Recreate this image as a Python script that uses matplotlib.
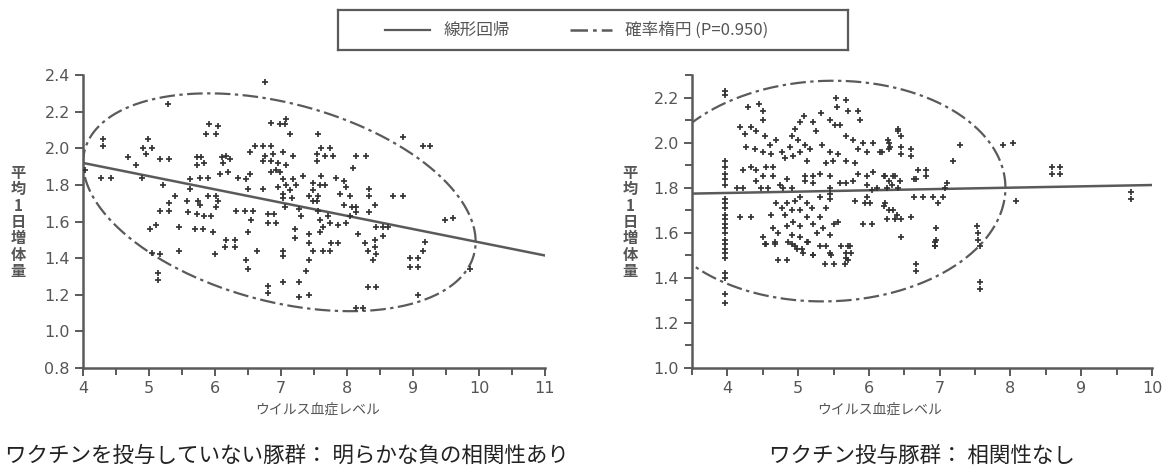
import numpy as np
import matplotlib
matplotlib.use("Agg")
import matplotlib.pyplot as plt
from matplotlib.ticker import MultipleLocator, FormatStrFormatter

plt.rcParams['font.family'] = ['Noto Sans CJK JP', 'DejaVu Sans']

# ---- Unvaccinated herd: viremia level vs. average daily gain ----
unvac_x = [6.75, 5.29, 4.30, 4.31, 5.91, 6.05, 5.87, 6.02, 6.85, 6.98, 7.08, 7.06, 7.13, 7.56,
           8.85, 9.15, 9.25, 4.98, 4.91, 5.04, 4.96, 4.68, 4.81, 5.16, 5.31, 5.72, 5.79, 5.84,
           5.72, 6.10, 6.17, 6.22, 6.12, 6.60, 6.73, 6.85, 6.53, 6.75, 6.88, 7.03, 7.18, 6.73,
           6.85, 6.95, 7.08, 6.93, 6.85, 6.98, 7.61, 7.74, 7.54, 7.66, 7.79, 7.54, 8.14, 8.29,
           8.09, 4.28, 4.43, 4.90, 5.21, 5.62, 5.77, 5.89, 6.07, 6.20, 6.35, 6.47, 6.53, 6.50,
           6.73, 7.03, 7.18, 6.95, 7.08, 7.23, 7.03, 7.13, 7.33, 7.61, 7.48, 7.59, 7.66, 7.48,
           7.84, 7.96, 7.99, 8.34, 8.34, 8.42, 8.70, 8.85, 5.62, 5.39, 5.31, 5.57, 5.74, 5.77,
           5.89, 6.02, 6.05, 6.02, 5.72, 5.84, 5.94, 5.59, 5.16, 5.31, 6.32, 6.45, 6.58, 6.55,
           6.80, 6.90, 6.80, 6.93, 7.03, 7.16, 7.06, 7.28, 7.31, 7.43, 7.56, 7.48, 7.54, 7.56,
           7.71, 7.59, 7.74, 7.64, 7.59, 7.86, 7.99, 7.89, 8.04, 7.96, 8.07, 8.14, 8.04, 8.14,
           8.34, 8.44, 8.55, 8.62, 8.55, 9.48, 9.61, 5.01, 5.11, 5.46, 5.69, 5.82, 5.97, 6.50,
           7.21, 7.21, 7.43, 7.43, 7.48, 7.43, 7.38, 6.17, 6.30, 6.15, 6.30, 8.17, 8.27, 8.32,
           8.42, 8.42, 8.44, 8.39, 7.76, 7.86, 7.64, 7.74, 9.18, 9.15, 5.04, 5.16, 5.46, 6.00,
           6.63, 7.03, 7.03, 6.47, 6.50, 8.95, 9.08, 8.95, 9.08, 9.86, 5.14, 5.14, 6.80, 6.80,
           7.03, 7.28, 7.28, 7.43, 8.32, 8.44, 9.08, 8.14, 8.24, 4.03]
unvac_y = [2.36, 2.24, 2.05, 2.01, 2.13, 2.12, 2.08, 2.08, 2.14, 2.13, 2.16, 2.13, 2.08, 2.08,
           2.06, 2.01, 2.01, 2.05, 2.00, 2.00, 1.97, 1.95, 1.91, 1.94, 1.94, 1.95, 1.95, 1.92,
           1.91, 1.95, 1.96, 1.94, 1.92, 2.01, 2.01, 2.01, 1.98, 1.96, 1.97, 1.98, 1.96, 1.93,
           1.93, 1.92, 1.91, 1.88, 1.87, 1.87, 2.00, 2.00, 1.97, 1.96, 1.96, 1.93, 1.96, 1.96,
           1.89, 1.84, 1.84, 1.84, 1.80, 1.83, 1.84, 1.84, 1.86, 1.87, 1.84, 1.83, 1.86, 1.78,
           1.78, 1.83, 1.83, 1.79, 1.80, 1.80, 1.75, 1.77, 1.85, 1.85, 1.81, 1.80, 1.80, 1.77,
           1.84, 1.82, 1.79, 1.78, 1.74, 1.69, 1.74, 1.74, 1.78, 1.74, 1.70, 1.71, 1.71, 1.69,
           1.74, 1.74, 1.71, 1.68, 1.64, 1.63, 1.63, 1.65, 1.66, 1.66, 1.66, 1.66, 1.66, 1.61,
           1.64, 1.64, 1.59, 1.59, 1.73, 1.73, 1.68, 1.67, 1.63, 1.74, 1.74, 1.71, 1.71, 1.66,
           1.63, 1.61, 1.59, 1.57, 1.54, 1.58, 1.59, 1.75, 1.74, 1.69, 1.68, 1.68, 1.63, 1.65,
           1.65, 1.57, 1.57, 1.57, 1.52, 1.61, 1.62, 1.56, 1.58, 1.57, 1.56, 1.56, 1.54, 1.54,
           1.56, 1.51, 1.53, 1.48, 1.44, 1.39, 1.33, 1.50, 1.50, 1.46, 1.46, 1.53, 1.48, 1.44,
           1.50, 1.46, 1.42, 1.39, 1.48, 1.48, 1.44, 1.44, 1.49, 1.44, 1.43, 1.42, 1.44, 1.42,
           1.44, 1.44, 1.41, 1.39, 1.34, 1.40, 1.40, 1.35, 1.35, 1.34, 1.32, 1.28, 1.25, 1.21,
           1.27, 1.27, 1.19, 1.20, 1.24, 1.24, 1.20, 1.13, 1.13, 1.88]

# ---- Vaccinated herd ----
vac_x = [3.96, 3.96, 3.97, 3.97, 3.97, 3.97, 3.97, 3.97, 3.97, 3.97, 3.97, 3.97, 3.97, 3.97,
         3.97, 3.97, 3.97, 3.97, 3.97, 3.97, 3.97, 3.97, 3.97, 3.97,
         4.29, 4.45, 4.51, 4.50, 5.54, 5.68, 5.55, 5.71, 5.85, 5.87, 5.32, 5.21, 5.25, 5.08,
         5.02, 4.95, 5.45, 5.52, 5.59, 4.18, 4.34,
         4.25, 4.41, 4.53, 4.69, 4.60, 4.27, 4.39, 4.51, 4.62, 4.77, 4.88, 4.91, 5.00, 5.09,
         5.17, 5.02, 4.93, 4.81, 5.12, 5.33, 5.45, 5.57, 5.68, 5.78, 5.92, 5.85, 5.97, 6.06,
         6.15, 6.29, 6.29, 6.41, 5.68, 5.80, 5.49, 5.40,
         4.22, 4.34, 4.41, 4.55, 4.65, 4.65, 4.51, 4.41, 4.48, 4.58, 4.13, 4.22, 4.74, 4.84,
         4.91, 4.79, 5.09, 5.21, 5.09, 5.21, 5.31, 5.45, 5.45, 5.59, 5.68, 5.78, 5.85, 5.97,
         6.06, 5.97, 6.04, 6.11, 6.23, 6.29, 6.37, 6.25,
         5.45, 5.45, 5.31, 5.80, 5.97, 5.94, 6.01, 6.23, 6.29, 6.39, 4.18, 4.34, 4.62, 4.69,
         4.77, 4.84, 4.91, 4.81, 4.95, 5.02, 5.12, 5.19, 5.02, 5.12, 4.93, 5.02, 5.21, 5.31,
         5.40, 5.50, 5.57, 5.26, 5.35, 5.45, 4.84, 4.72, 4.65, 4.51, 4.55, 4.67, 4.91, 5.02,
         5.12, 4.91, 4.98, 5.07, 5.21, 5.31, 5.45, 5.73, 5.75, 5.68, 5.92, 6.04,
         4.53, 4.67, 4.86, 4.95, 5.05, 5.14, 5.21, 5.40, 5.47, 5.61, 5.71, 5.68, 5.71, 5.66,
         5.50, 5.38, 4.72, 4.84,
         6.41, 6.46, 6.27, 6.30, 6.45, 6.46, 6.60, 6.60, 6.18, 7.28, 7.19, 7.90, 8.03, 8.58,
         8.70, 8.58, 8.70, 6.22, 6.34, 6.70, 6.81, 6.81, 6.67, 6.63, 6.44, 6.32, 6.41, 7.10,
         7.07, 6.63, 6.76, 6.91, 7.04, 6.98, 8.08, 9.71, 9.71, 6.22, 6.34, 6.25, 6.37, 6.46,
         6.60, 6.45, 6.95, 6.95, 6.94, 7.53, 7.54, 7.54,
         6.93, 6.93, 6.67, 6.67, 7.57, 7.57, 7.57]
vac_y = [2.23, 2.21, 1.92, 1.89, 1.86, 1.84, 1.81, 1.75, 1.73, 1.71, 1.68, 1.66, 1.64, 1.62,
         1.60, 1.57, 1.55, 1.53, 1.51, 1.49, 1.42, 1.40, 1.33, 1.29,
         2.16, 2.17, 2.14, 2.10, 2.20, 2.19, 2.16, 2.14, 2.14, 2.10, 2.13, 2.09, 2.05, 2.12,
         2.09, 2.06, 2.10, 2.08, 2.08, 2.07, 2.07,
         2.04, 2.05, 2.03, 2.01, 1.99, 1.98, 1.97, 1.96, 1.95, 1.96, 1.98, 2.03, 2.01, 1.99,
         1.97, 1.96, 1.94, 1.93, 1.92, 1.99, 1.96, 1.95, 2.03, 2.01, 2.00, 1.97, 1.96, 2.00,
         1.96, 2.00, 1.97, 2.05, 1.92, 1.91, 1.92, 1.91,
         1.88, 1.89, 1.88, 1.89, 1.89, 1.85, 1.85, 1.83, 1.80, 1.80, 1.80, 1.80, 1.81, 1.84,
         1.80, 1.80, 1.85, 1.85, 1.83, 1.82, 1.86, 1.85, 1.80, 1.82, 1.82, 1.83, 1.86, 1.85,
         1.87, 1.81, 1.79, 1.80, 1.85, 1.83, 1.85, 1.80,
         1.77, 1.75, 1.76, 1.74, 1.76, 1.73, 1.73, 1.73, 1.70, 1.68, 1.67, 1.67, 1.68, 1.73,
         1.71, 1.73, 1.70, 1.68, 1.74, 1.76, 1.73, 1.71, 1.70, 1.67, 1.65, 1.63, 1.64, 1.67,
         1.71, 1.64, 1.65, 1.60, 1.62, 1.59, 1.63, 1.60, 1.62, 1.58, 1.55, 1.56, 1.59, 1.58,
         1.56, 1.55, 1.53, 1.51, 1.50, 1.54, 1.51, 1.54, 1.51, 1.49, 1.64, 1.64,
         1.55, 1.55, 1.56, 1.54, 1.53, 1.56, 1.50, 1.54, 1.50, 1.54, 1.54, 1.51, 1.48, 1.46,
         1.46, 1.46, 1.48, 1.48,
         2.06, 2.03, 2.01, 1.98, 1.98, 1.95, 1.97, 1.94, 1.96, 1.99, 1.92, 1.99, 2.00, 1.89,
         1.89, 1.86, 1.86, 1.85, 1.85, 1.88, 1.88, 1.85, 1.84, 1.84, 1.83, 1.81, 1.80, 1.82,
         1.80, 1.76, 1.76, 1.76, 1.76, 1.73, 1.74, 1.78, 1.75, 1.72, 1.70, 1.66, 1.66, 1.66,
         1.67, 1.58, 1.62, 1.57, 1.54, 1.63, 1.60, 1.57,
         1.56, 1.54, 1.46, 1.43, 1.38, 1.35, 1.54]

# Bivariate summary statistics (mean x, mean y, sd x, sd y, correlation)
unvac_stats = dict(mx=6.975, my=1.705, sx=1.215, sy=0.243, r=-0.361)
vac_stats = dict(mx=5.42, my=1.785, sx=1.025, sy=0.200, r=0.03)

chi2_95 = 5.991  # chi-square quantile, 2 dof, p = 0.95

legend_labels = ["線形回帰", "確率楕円 (P=0.950)"]
x_label = "ウイルス血症レベル"
y_label = "平均1日増体量"
captions = ["ワクチンを投与していない豚群： 明らかな負の相関性あり",
            "ワクチン投与豚群： 相関性なし"]

GRAY = "#5a5a5a"
TXT = "#555555"
PT = "#333333"
DASHDOT = (0, (7, 2, 1.5, 2))


def draw_panel(ax, xs, ys, st, xlim, ylim):
    ax.plot(xs, ys, linestyle="none", marker="+", ms=4.0, mew=1.25, color=PT, zorder=3)
    # least-squares line from the summary statistics
    slope = st["r"] * st["sy"] / st["sx"]
    icpt = st["my"] - slope * st["mx"]
    xl = np.array(xlim, dtype=float)
    ax.plot(xl, icpt + slope * xl, color=GRAY, lw=1.8, zorder=2)
    # normal density ellipse
    t = np.linspace(0, 2 * np.pi, 400)
    k = np.sqrt(chi2_95)
    ex = st["mx"] + k * st["sx"] * np.cos(t)
    ey = st["my"] + k * st["sy"] * (st["r"] * np.cos(t) + np.sqrt(1 - st["r"] ** 2) * np.sin(t))
    ax.plot(ex, ey, color=GRAY, lw=1.6, linestyle=DASHDOT, zorder=2)
    ax.set_xlim(*xlim)
    ax.set_ylim(*ylim)
    for s in ("top", "right"):
        ax.spines[s].set_visible(False)
    for s in ("left", "bottom"):
        ax.spines[s].set_color(GRAY)
        ax.spines[s].set_linewidth(1.8)
    ax.tick_params(which="both", direction="out", color=GRAY, width=1.4, labelcolor=TXT,
                   labelsize=11.5)
    ax.tick_params(which="major", length=6)
    ax.tick_params(which="minor", length=5)
    ax.xaxis.set_major_locator(MultipleLocator(1))
    ax.xaxis.set_minor_locator(MultipleLocator(0.5))
    ax.yaxis.set_major_locator(MultipleLocator(0.2))
    ax.yaxis.set_major_formatter(FormatStrFormatter("%.1f"))
    for lab in ax.get_xticklabels() + ax.get_yticklabels():
        lab.set_family("DejaVu Sans")


fig = plt.figure(figsize=(11.69, 4.74), dpi=100)

ax1 = fig.add_axes([83 / 1169, 1 - 368 / 474, 462 / 1169, 293 / 474])
draw_panel(ax1, unvac_x, unvac_y, unvac_stats, (4, 11), (0.8, 2.4))

ax2 = fig.add_axes([692 / 1169, 1 - 368 / 474, 460 / 1169, 293 / 474])
draw_panel(ax2, vac_x, vac_y, vac_stats, (3.5, 10), (1.0, 2.3))
ax2.yaxis.set_minor_locator(MultipleLocator(0.1))

# axis titles
fig.text(318 / 1169, 1 - 410 / 474, x_label, ha="center", va="center", fontsize=10, color=TXT)
fig.text(880 / 1169, 1 - 410 / 474, x_label, ha="center", va="center", fontsize=10, color=TXT)
fig.text(18 / 1169, 1 - 222 / 474, "\n".join(y_label), ha="center", va="center",
         fontsize=11, color=TXT, linespacing=1.02, fontweight="bold")
fig.text(630 / 1169, 1 - 222 / 474, "\n".join(y_label), ha="center", va="center",
         fontsize=11, color=TXT, linespacing=1.02, fontweight="bold")

# panel captions
fig.text(5 / 1169, 1 - 456 / 474, captions[0], ha="left", va="center", fontsize=15.5,
         color="#222222")
fig.text(922 / 1169, 1 - 456 / 474, captions[1], ha="center", va="center", fontsize=15.5,
         color="#222222")

# shared key
lax = fig.add_axes([338 / 1169, 1 - 50 / 474, 510 / 1169, 40 / 474])
lax.set_xlim(0, 510)
lax.set_ylim(0, 40)
lax.set_xticks([])
lax.set_yticks([])
for s in lax.spines.values():
    s.set_color(GRAY)
    s.set_linewidth(1.6)
lax.plot([47, 92], [20, 20], color=GRAY, lw=1.6)
lax.text(106, 20, legend_labels[0], va="center", ha="left", fontsize=12, color=TXT)
lax.plot([232, 274], [20, 20], color=GRAY, lw=1.8, linestyle=DASHDOT)
lax.text(287, 20, legend_labels[1], va="center", ha="left", fontsize=12, color=TXT)

fig.savefig("out.png", dpi=100, facecolor="white")
